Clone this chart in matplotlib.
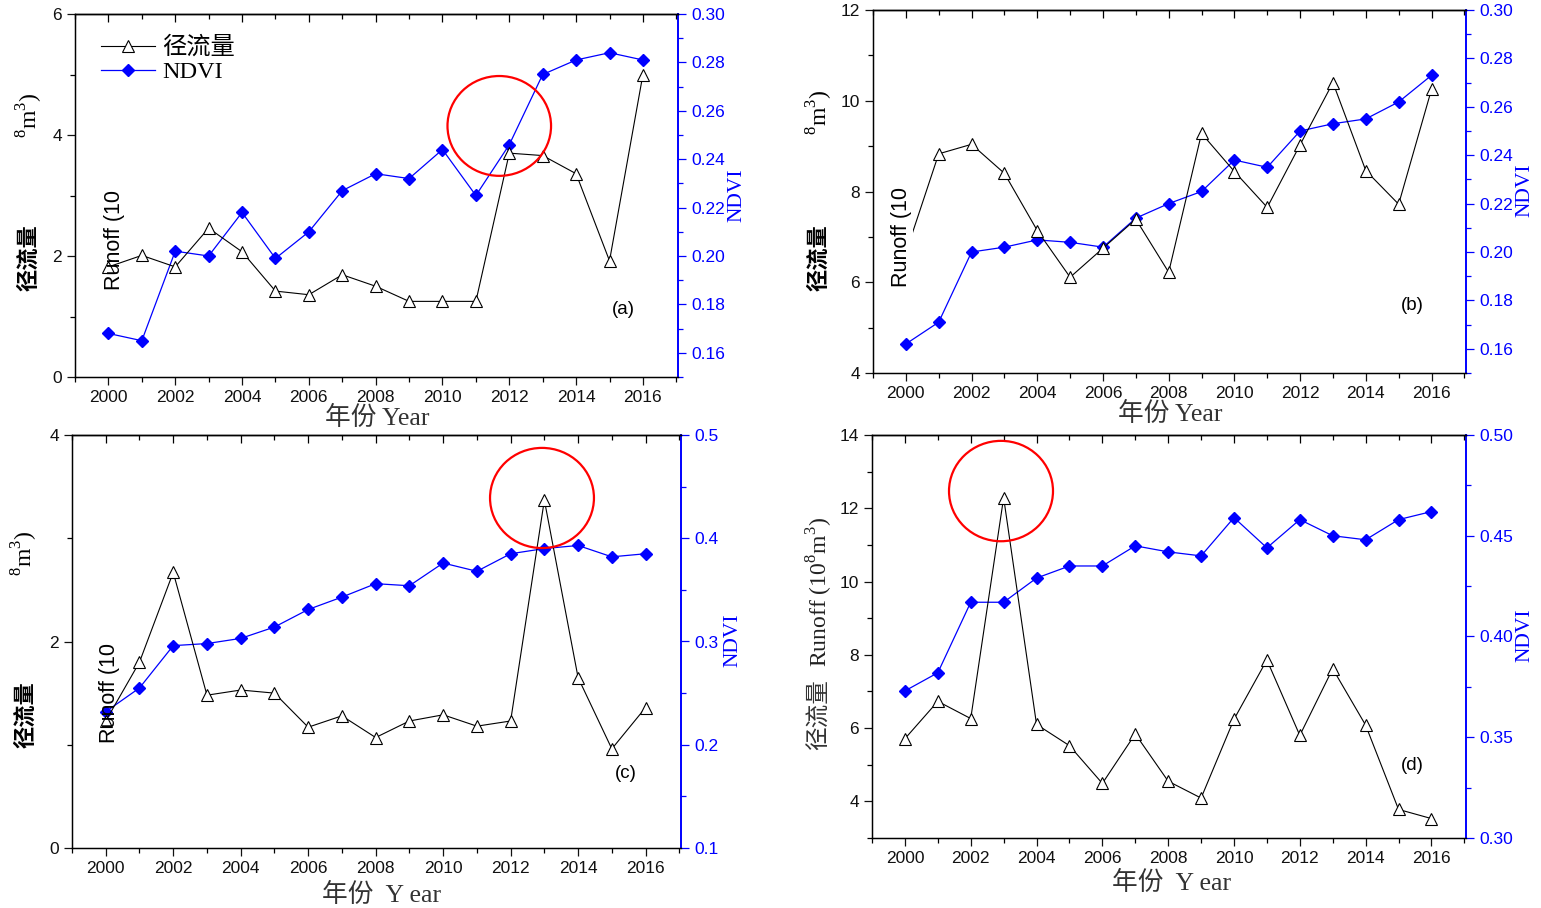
import numpy as np
import matplotlib
matplotlib.use('Agg')
import matplotlib.pyplot as plt
from matplotlib.patches import Ellipse
from matplotlib.ticker import MultipleLocator

plt.rcParams['font.family'] = ['Liberation Sans', 'Noto Sans CJK SC']
plt.rcParams['mathtext.fontset'] = 'custom'
plt.rcParams['mathtext.rm'] = 'Liberation Serif'

W, H = 1541, 908
years = np.arange(2000, 2017)

runoff_a = [1.82, 2.01, 1.82, 2.46, 2.07, 1.42, 1.36, 1.69, 1.50, 1.25, 1.25, 1.25, 3.70, 3.66, 3.36, 1.92, 5.00]
ndvi_a = [0.168, 0.165, 0.202, 0.200, 0.218, 0.199, 0.210, 0.227, 0.234, 0.232, 0.244, 0.225, 0.246, 0.275, 0.281, 0.284, 0.281]

runoff_b = [6.65, 8.83, 9.04, 8.40, 7.14, 6.11, 6.75, 7.39, 6.22, 9.28, 8.44, 7.65, 9.03, 10.40, 8.46, 7.72, 10.25]
ndvi_b = [0.162, 0.171, 0.200, 0.202, 0.205, 0.204, 0.202, 0.214, 0.220, 0.225, 0.238, 0.235, 0.250, 0.253, 0.255, 0.262, 0.273]

runoff_c = [1.23, 1.80, 2.67, 1.48, 1.53, 1.50, 1.17, 1.28, 1.07, 1.23, 1.29, 1.18, 1.23, 3.37, 1.65, 0.96, 1.36]
ndvi_c = [0.232, 0.255, 0.296, 0.298, 0.303, 0.314, 0.331, 0.343, 0.356, 0.354, 0.376, 0.368, 0.385, 0.390, 0.393, 0.382, 0.385]

runoff_d = [5.71, 6.73, 6.26, 12.29, 6.10, 5.52, 4.49, 5.84, 4.55, 4.09, 6.24, 7.86, 5.80, 7.62, 6.08, 3.78, 3.53]
ndvi_d = [0.373, 0.382, 0.417, 0.417, 0.429, 0.435, 0.435, 0.445, 0.442, 0.440, 0.459, 0.444, 0.458, 0.450, 0.448, 0.458, 0.462]

serif_cjk = ['Liberation Serif', 'Noto Sans CJK SC']
sans_cjk = ['Liberation Sans', 'Noto Sans CJK SC']

fig = plt.figure(figsize=(W / 100, H / 100), dpi=100)


def box(l, r, t, b):
    return [l / W, 1 - b / H, (r - l) / W, (b - t) / H]


def fx(x):
    return x / W


def fy(y):
    return 1 - y / H


def panel(rect, runoff, ndvi, ylim, ymaj, ymin, rlim, rmaj, rmin, rfmt, letter, letter_pos, circle=None):
    ax = fig.add_axes(box(*rect))
    ax2 = ax.twinx()
    ax.set_zorder(ax2.get_zorder() + 1)
    ax.patch.set_visible(False)

    l2, = ax2.plot(years, ndvi, color='blue', lw=0.9, marker='D', ms=6.5,
                   markerfacecolor='blue', markeredgecolor='blue', label='NDVI')
    l1, = ax.plot(years, runoff, color='black', lw=0.8, marker='^', ms=8,
                  markerfacecolor='white', markeredgecolor='black', markeredgewidth=0.8, label='径流量')

    ax.set_xlim(1999, 2017.05)
    ax.set_ylim(*ylim)
    ax2.set_ylim(*rlim)
    ax.set_xticks(np.arange(2000, 2017, 2))
    ax.xaxis.set_minor_locator(MultipleLocator(1))
    ax.yaxis.set_major_locator(MultipleLocator(ymaj))
    ax.yaxis.set_minor_locator(MultipleLocator(ymin))
    ax2.yaxis.set_major_locator(MultipleLocator(rmaj))
    ax2.yaxis.set_minor_locator(MultipleLocator(rmin))
    ax2.yaxis.set_major_formatter(plt.FormatStrFormatter(rfmt))

    ax.tick_params(axis='both', which='major', labelsize=12.5, length=6, width=0.9, direction='out',
                   colors='#111111')
    ax.tick_params(axis='both', which='minor', length=3.5, width=0.9, direction='out')
    ax2.tick_params(axis='y', which='major', labelsize=12.5, length=6, width=0.9,
                    direction='out', colors='blue')
    ax2.tick_params(axis='y', which='minor', length=3.5, width=0.9, direction='out', colors='blue')
    top = ax.secondary_xaxis('top')
    top.set_xticks(np.arange(2000, 2017, 2))
    top.xaxis.set_minor_locator(MultipleLocator(1))
    top.tick_params(which='major', direction='in', length=6, width=0.9, labeltop=False)
    top.tick_params(which='minor', direction='in', length=3.5, width=0.9)

    for s in ax.spines.values():
        s.set_linewidth(1.0)
    ax.spines['right'].set_visible(False)
    ax2.spines['right'].set_color('blue')
    ax2.spines['right'].set_linewidth(1.4)
    top.spines['top'].set_linewidth(1.0)

    ax.text(letter_pos[0], letter_pos[1], letter, transform=ax.transAxes,
            fontsize=13.5, ha='center', va='center')
    if circle is not None:
        cx, cy, cw, ch = circle
        ax.add_patch(Ellipse((cx, cy), cw, ch, fill=False, edgecolor='red', lw=1.6, zorder=5))
    return ax, [l1, l2]


ax_a, lines_a = panel((75, 678, 14, 377), runoff_a, ndvi_a, (0, 6), 2, 1, (0.15, 0.30), 0.02, 0.01, '%.2f',
                      '(a)', (0.91, 0.185), (2011.7, 4.15, 3.1, 1.65))
panel((873, 1466, 10, 373), runoff_b, ndvi_b, (4, 12), 2, 1, (0.15, 0.30), 0.02, 0.01, '%.2f',
      '(b)', (0.91, 0.185))
panel((72, 681, 435, 848), runoff_c, ndvi_c, (0, 4), 2, 1, (0.1, 0.5), 0.1, 0.05, '%.1f',
      '(c)', (0.91, 0.18), (2012.93, 3.39, 3.08, 0.97))
panel((872, 1466, 435, 838), runoff_d, ndvi_d, (3, 14), 2, 1, (0.30, 0.50), 0.05, 0.025, '%.2f',
      '(d)', (0.91, 0.18), (2002.92, 12.47, 3.16, 2.74))

ax_a.legend(handles=lines_a, loc='upper left', frameon=False,
            prop={'family': serif_cjk, 'size': 17.5}, handlelength=2.2,
            borderaxespad=0.3, labelspacing=0.1, handletextpad=0.3,
            bbox_to_anchor=(0.015, 0.985))

# x labels
for x, y, t in [(377, 418, '年份 Year'), (1170, 414, '年份 Year'),
                (382, 895, '年份  Y ear'), (1172, 883, '年份  Y ear')]:
    fig.text(fx(x), fy(y), t, family=serif_cjk, fontsize=18.5, ha='center', va='center', color='#333333')

# NDVI labels
for x, y in [(737, 195), (1525, 190), (733, 640), (1525, 635)]:
    fig.text(fx(x), fy(y), 'NDVI', family='Liberation Serif', fontsize=15.5, color='blue',
             rotation=90, ha='center', va='center')

# broken left labels for (a), (b), (c)
for (x1, y1), (x2, y2), (x3, y3), bg in [((30, 258), (115, 240), (30, 115), False),
                                         ((820, 258), (902, 237), (820, 112), True),
                                         ((27, 715), (110, 693), (25, 553), False)]:
    fig.text(fx(x1), fy(y1), '径流量', family=sans_cjk, fontsize=16, fontweight='bold',
             rotation=90, ha='center', va='center')
    kw = {}
    if bg:
        kw['bbox'] = dict(facecolor='white', edgecolor='none', pad=0)
    fig.text(fx(x2), fy(y2), 'Runoff (10', family='Liberation Sans', fontsize=15.5,
             rotation=90, ha='center', va='center', zorder=10, **kw)
    fig.text(fx(x3), fy(y3), r'$^{8}$m$^{3}$)', family='Liberation Serif', fontsize=17,
             rotation=90, ha='center', va='center')

# label of (d)
fig.text(fx(820), fy(715), '径流量', family=sans_cjk, fontsize=17,
         rotation=90, ha='center', va='center', color='#333333')
fig.text(fx(820), fy(592), r'Runoff (10$^{8}$m$^{3}$)', family='Liberation Serif', fontsize=17,
         rotation=90, ha='center', va='center', color='#222222')

plt.savefig('out.png', dpi=100)
